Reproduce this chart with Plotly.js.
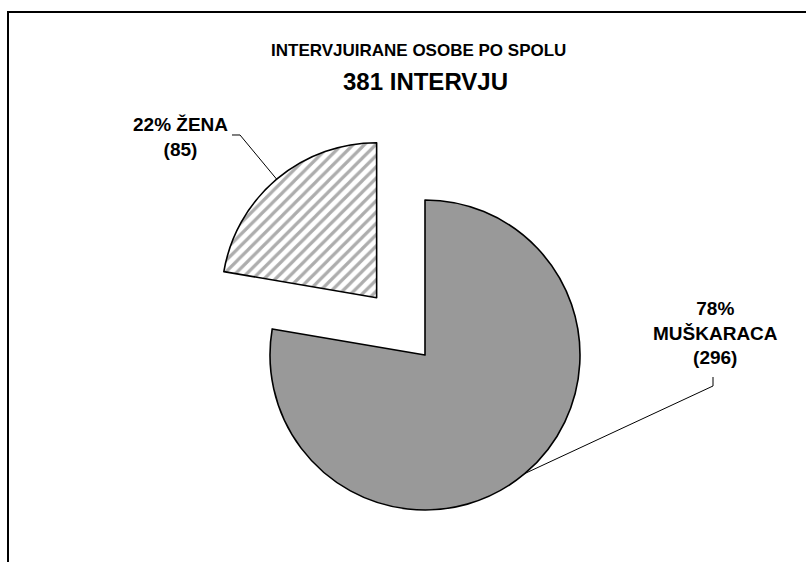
<!DOCTYPE html>
<html><head><meta charset="utf-8">
<script src="https://cdn.plot.ly/plotly-3.0.1.min.js"></script>
<style>html,body{margin:0;padding:0;background:#fff}#chart{width:806px;height:562px}</style>
</head><body><div id="chart"></div>
<script>
// ---- data ----
const categories = ['ŽENA', 'MUŠKARACA'];
const counts = [85, 296];
const titleLine1 = 'INTERVJUIRANE OSOBE PO SPOLU';
const titleLine2 = '381 INTERVJU';

// ---- layout geometry (pixels) ----
const W = 806, H = 562;
const R = 155;                 // pie radius
const mainCenter = [425, 355]; // centre of the un-pulled pie
const pullPx = 75;             // how far the first slice is pulled out
const FONT = 'Liberation Sans, Arial, sans-serif';

const total = counts.reduce((a, b) => a + b, 0);
const pct = counts.map(v => Math.round(v / total * 100));
// mid angle (deg, counterclockwise from 12 o'clock) of each slice
let cum = 0;
const midAng = counts.map(v => { const m = (cum + v / 2) / total * 360; cum += v; return m; });
const rad = d => d * Math.PI / 180;
const dirOf = a => [-Math.sin(rad(a)), -Math.cos(rad(a))]; // screen direction
const pulledCenter = [mainCenter[0] + dirOf(midAng[0])[0] * pullPx,
                      mainCenter[1] + dirOf(midAng[0])[1] * pullPx];
const centers = [pulledCenter, mainCenter];
const anchors = centers.map((c, i) => [c[0] + dirOf(midAng[i])[0] * R, c[1] + dirOf(midAng[i])[1] * R]);

const px = x => x / W, py = y => 1 - y / H;
const domainOf = c => ({x: [px(c[0] - R), px(c[0] + R)], y: [py(c[1] + R), py(c[1] - R)]});

const TR = 'rgba(0,0,0,0)';
// first slice ends at 12 o'clock, lying to its left
const rotationDeg = -counts[0] / total * 360;
const common = {
  type: 'pie', values: counts, labels: categories, sort: false,
  direction: 'counterclockwise', rotation: rotationDeg, textinfo: 'none',
  hoverinfo: 'label+value+percent', showlegend: false
};
const traceMen = Object.assign({}, common, {
  domain: domainOf(centers[1]),
  marker: {colors: [TR, '#999999'], line: {color: [TR, '#000000'], width: [0, 1.6]}}
});
const traceWomen = Object.assign({}, common, {
  domain: domainOf(centers[0]),
  marker: {colors: ['#ffffff', TR], line: {color: ['#000000', TR], width: [1.6, 0]},
           pattern: {shape: ['/', ''], fgcolor: '#adadad', bgcolor: ['#ffffff', TR], size: 8, solidity: 0.4}}
});

// label blocks (pixel centres) and elbows
const labelPos = [[180, 137], [715, 333]];
const labelText = [
  `${pct[0]}% ${categories[0]}<br>(${counts[0]})`,
  `${pct[1]}%<br>${categories[1]}<br>(${counts[1]})`
];
const elbows = [[[232, 135], [240, 135]], [[713, 377], [713, 386]]];

const annotations = [
  {text: titleLine1, x: px(418), y: py(51), xref: 'paper', yref: 'paper', showarrow: false,
   xanchor: 'center', yanchor: 'middle', font: {family: FONT, size: 17, weight: 'bold', color: '#000'}},
  {text: titleLine2, x: px(425), y: py(82), xref: 'paper', yref: 'paper', showarrow: false,
   xanchor: 'center', yanchor: 'middle', font: {family: FONT, size: 24, weight: 'bold', color: '#000'}}
].concat(labelPos.map((p, i) => ({
  text: labelText[i], x: px(p[0]), y: py(p[1]), xref: 'paper', yref: 'paper', showarrow: false,
  xanchor: 'center', yanchor: 'middle', align: 'center',
  font: {family: FONT, size: 19, weight: 'bold', color: '#000'}
})));

const pathOf = pts => pts.map((p, i) => (i ? 'L' : 'M') + px(p[0]).toFixed(5) + ',' + py(p[1]).toFixed(5)).join(' ');
const shapes = [
  {type: 'rect', xref: 'paper', yref: 'paper', x0: px(8), x1: px(W + 10), y0: py(H + 10), y1: py(12),
   line: {color: '#000', width: 2}, fillcolor: TR}
].concat(elbows.map((e, i) => ({
  type: 'path', xref: 'paper', yref: 'paper', path: pathOf([e[0], e[1], anchors[i]]),
  line: {color: '#000', width: 1}
})));

Plotly.newPlot('chart', [traceMen, traceWomen], {
  width: W, height: H, margin: {l: 0, r: 0, t: 0, b: 0},
  paper_bgcolor: '#ffffff', plot_bgcolor: '#ffffff',
  annotations: annotations, shapes: shapes
}, {displayModeBar: false, staticPlot: true});
</script></body></html>
